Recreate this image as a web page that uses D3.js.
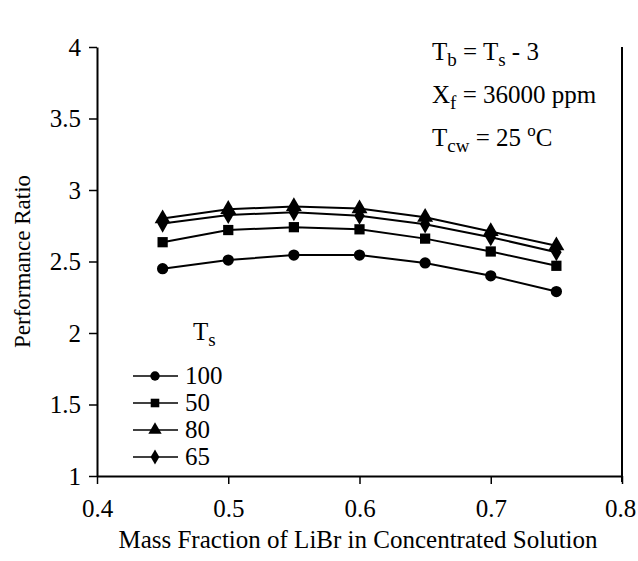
<!DOCTYPE html>
<html>
<head>
<meta charset="utf-8">
<script src="https://cdn.jsdelivr.net/npm/d3@7"></script>
<style>
  body { margin: 0; background: #fff; }
  text { font-family: "Liberation Serif", "Times New Roman", serif; fill: #000; }
</style>
</head>
<body>
<svg id="chart" width="638" height="561"></svg>
<script>
// mass fraction of LiBr
const massFraction = [0.45, 0.5, 0.55, 0.6, 0.65, 0.7, 0.75];
const seriesNames = ["100", "50", "80", "65"];
const pr100 = [2.45, 2.51, 2.545, 2.545, 2.49, 2.40, 2.29];
const pr50 = [2.635, 2.72, 2.74, 2.725, 2.66, 2.57, 2.47];
const pr80 = [2.80, 2.865, 2.885, 2.87, 2.81, 2.71, 2.61];
const pr65 = [2.765, 2.825, 2.845, 2.82, 2.76, 2.67, 2.565];
const xTicks = [0.4, 0.5, 0.6, 0.7, 0.8];
const yTicks = [1, 1.5, 2, 2.5, 3, 3.5, 4];

const seriesValues = [pr100, pr50, pr80, pr65];
const symbols = [d3.symbolCircle, d3.symbolSquare, d3.symbolTriangle, d3.symbolDiamond];
const symSizes = [100, 105, 110, 95];

let margin = { top: 47, right: 16, bottom: 85, left: 97 },
    width = 638 - margin.left - margin.right,
    height = 561 - margin.top - margin.bottom;

let svg = d3.select("#chart");
let g = svg.append("g").attr("transform", `translate(${margin.left},${margin.top})`);

let x = d3.scaleLinear().domain([0.4, 0.8]).range([0, width]);
let y = d3.scaleLinear().domain([1, 4]).range([height, 0]);

// axes
let xAxis = g.append("g")
    .attr("transform", `translate(0,${height})`)
    .call(d3.axisBottom(x).tickValues(xTicks).tickSize(8).tickSizeOuter(0).tickFormat(d3.format("")));
let yAxis = g.append("g")
    .call(d3.axisLeft(y).tickValues(yTicks).tickSize(8).tickSizeOuter(0).tickFormat(d3.format("")));

[xAxis, yAxis].forEach(a => {
    a.select(".domain").attr("stroke", "#000").attr("stroke-width", 2);
    a.selectAll(".tick line").attr("stroke", "#000").attr("stroke-width", 1.5);
    a.selectAll(".tick text")
        .style("font-size", "25px")
        .style("font-family", "Liberation Serif");
});
xAxis.selectAll(".tick text").attr("y", 18).attr("dy", "0.9em");
yAxis.selectAll(".tick text").attr("x", -16);
// keep the last x label inside the window
xAxis.selectAll(".tick text").filter(d => d === 0.8).attr("dx", -2);

// right frame line
g.append("line")
    .attr("x1", x(0.8)).attr("x2", x(0.8))
    .attr("y1", y(4)).attr("y2", height + 6)
    .attr("stroke", "#000").attr("stroke-width", 2);

// series
let line = d3.line()
    .x((d, i) => x(massFraction[i]))
    .y(d => y(d));

seriesValues.forEach((vals, s) => {
    g.append("path")
        .datum(vals)
        .attr("fill", "none")
        .attr("stroke", "#000")
        .attr("stroke-width", 2)
        .attr("d", line);
    g.selectAll(".m" + s)
        .data(vals)
        .enter()
        .append("path")
        .attr("class", "m" + s)
        .attr("transform", (d, i) => `translate(${x(massFraction[i])},${y(d)})`)
        .attr("d", d3.symbol().type(symbols[s]).size(symSizes[s]))
        .attr("fill", "#000");
});

// axis titles
svg.append("text")
    .attr("x", 358)
    .attr("y", 548)
    .attr("text-anchor", "middle")
    .style("font-size", "25px")
    .text("Mass Fraction of LiBr in Concentrated Solution");

svg.append("text")
    .attr("transform", `translate(30,${margin.top + height / 2}) rotate(-90)`)
    .attr("text-anchor", "middle")
    .style("font-size", "23px")
    .text("Performance Ratio");

// annotations
let ann = svg.append("g").style("font-size", "25px");
let t1 = ann.append("text").attr("x", 432).attr("y", 60);
t1.append("tspan").text("T");
t1.append("tspan").attr("dy", 6).style("font-size", "19px").text("b");
t1.append("tspan").attr("dy", -6).text(" = T");
t1.append("tspan").attr("dy", 6).style("font-size", "19px").text("s");
t1.append("tspan").attr("dy", -6).text(" - 3");

let t2 = ann.append("text").attr("x", 432).attr("y", 103);
t2.append("tspan").text("X");
t2.append("tspan").attr("dy", 6).style("font-size", "19px").text("f");
t2.append("tspan").attr("dy", -6).text(" = 36000 ppm");

let t3 = ann.append("text").attr("x", 432).attr("y", 146);
t3.append("tspan").text("T");
t3.append("tspan").attr("dy", 6).style("font-size", "19px").text("cw");
t3.append("tspan").attr("dy", -6).text(" = 25 ");
t3.append("tspan").attr("dy", -10).style("font-size", "17px").text("o");
t3.append("tspan").attr("dy", 10).text("C");

// legend
let leg = svg.append("g");
let lt = leg.append("text").attr("x", 193).attr("y", 340).style("font-size", "25px");
lt.append("tspan").text("T");
lt.append("tspan").attr("dy", 6).style("font-size", "19px").text("s");

seriesNames.forEach((name, s) => {
    let ly = 376 + s * 27;
    leg.append("line")
        .attr("x1", 133).attr("x2", 178)
        .attr("y1", ly).attr("y2", ly)
        .attr("stroke", "#000").attr("stroke-width", 1.5);
    leg.append("path")
        .attr("transform", `translate(155,${ly})`)
        .attr("d", d3.symbol().type(symbols[s]).size(symSizes[s] * 0.7))
        .attr("fill", "#000");
    leg.append("text")
        .attr("x", 185).attr("y", ly + 8)
        .style("font-size", "25px")
        .text(name);
});
</script>
</body>
</html>
